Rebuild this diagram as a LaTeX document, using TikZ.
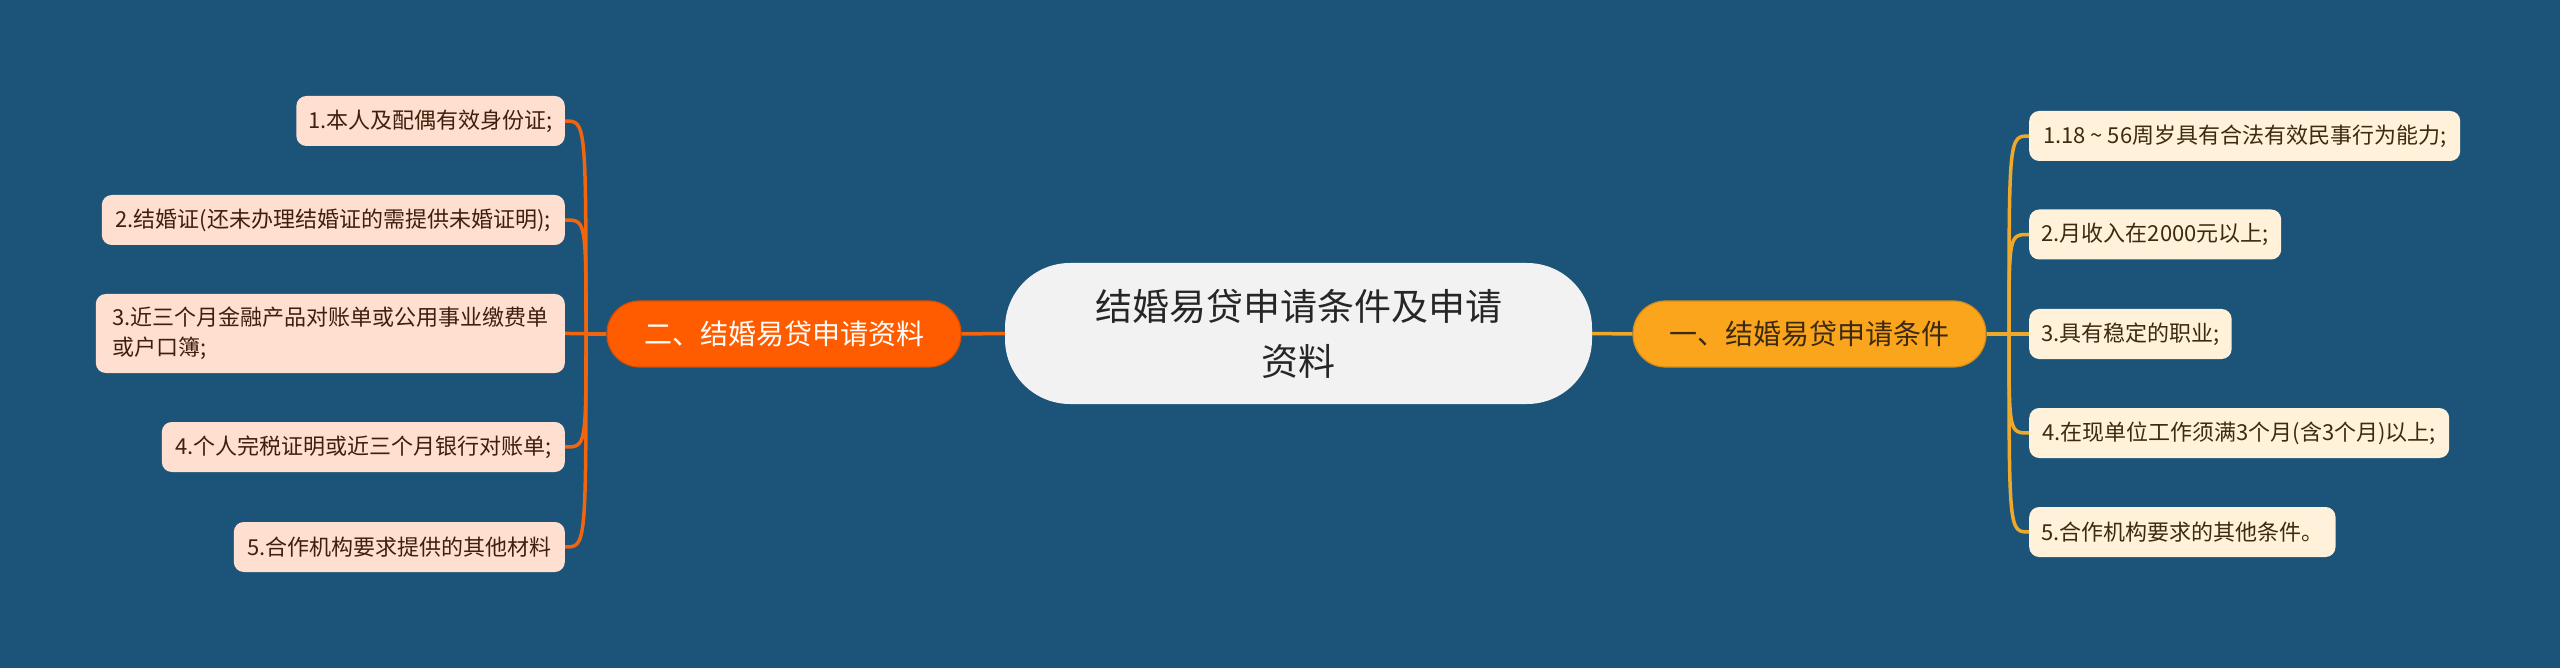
\documentclass[tikz,border=0pt]{standalone}
\usepackage{fontspec}
\setmainfont{Noto Sans CJK SC}
\definecolor{bg}{HTML}{1B5478}
\definecolor{lorange}{HTML}{FF5C00}
\definecolor{lline}{HTML}{F2650F}
\definecolor{rgold}{HTML}{FBA51D}
\definecolor{rline}{HTML}{EFA92A}
\definecolor{lleaf}{HTML}{FFE0D0}
\definecolor{rleaf}{HTML}{FFF1DA}
\definecolor{ctr}{HTML}{F2F2F2}
\definecolor{ltext}{HTML}{40200C}
\definecolor{rtext}{HTML}{3D2A12}
\begin{document}
\begin{tikzpicture}[x=1pt,y=-1pt,
  centerbox/.style={fill=ctr, rounded corners=65, minimum width=587, minimum height=141, inner sep=0, align=center, text=black!85, font=\fontsize{37}{55}\selectfont},
  lbranchbox/.style={fill=lorange, draw=lorange!85!black, line width=1.2, rounded corners=32.5, minimum width=354, minimum height=66, inner sep=0, text=white, font=\fontsize{28}{34}\selectfont},
  rbranchbox/.style={fill=rgold, draw=rgold!85!black, line width=1.2, rounded corners=32.5, minimum width=353, minimum height=66, inner sep=0, text=rtext, font=\fontsize{28}{34}\selectfont},
  lleafbox/.style={fill=lleaf, rounded corners=10, minimum height=50, inner xsep=12, inner ysep=0, text=ltext, anchor=east, font=\fontsize{22}{30}\selectfont, align=left},
  rleafbox/.style={fill=rleaf, rounded corners=10, minimum height=50, inner xsep=12, inner ysep=0, text=rtext, anchor=west, font=\fontsize{22}{30}\selectfont, align=left},
  lconn/.style={draw=lline, line width=3.5},
  rconn/.style={draw=rline, line width=3.5}]
\useasboundingbox (0,0) rectangle (2560,668);
\fill[bg] (0,0) rectangle (2560,668);

\node[centerbox] (c) at (1298.5,333.5) {结婚易贷申请条件及申请\\资料};
\node[lbranchbox] (lb) at (784,334) {二、结婚易贷申请资料};
\node[rbranchbox] (rb) at (1809.5,334) {一、结婚易贷申请条件};

\node[lleafbox, minimum width=268] (l1) at (565,121) {1.本人及配偶有效身份证;};
\node[lleafbox, minimum width=463] (l2) at (565,220) {2.结婚证(还未办理结婚证的需提供未婚证明);};
\node[lleafbox, minimum width=469, minimum height=79] (l3) at (565,333.5) {3.近三个月金融产品对账单或公用事业缴费单\\或户口簿;};
\node[lleafbox, minimum width=403] (l4) at (565,447) {4.个人完税证明或近三个月银行对账单;};
\node[lleafbox, minimum width=331] (l5) at (565,547) {5.合作机构要求提供的其他材料};

\node[rleafbox, minimum width=431] (r1) at (2029,136) {1.18\ \string~\ 56周岁具有合法有效民事行为能力;};
\node[rleafbox, minimum width=252] (r2) at (2029,234.5) {2.月收入在2000元以上;};
\node[rleafbox, minimum width=200] (r3) at (2029,334) {3.具有稳定的职业;};
\node[rleafbox, minimum width=420] (r4) at (2029,433) {4.在现单位工作须满3个月(含3个月)以上;};
\node[rleafbox, minimum width=306] (r5) at (2029,532) {5.合作机构要求的其他条件。};

\coordinate (lt) at (586,334);
\coordinate (rt) at (2009,334);

\draw[lconn] (c.west) -- (lb.east);
\draw[rconn] (c.east) -- (rb.west);
\draw[lconn] (lb.west) -- (lt);
\draw[rconn] (rb.east) -- (rt);

\foreach \n in {l1,l2,l3,l4,l5}
  \draw[lconn] (lt) .. controls (lt |- \n.east) and (lt |- \n.east) .. (\n.east);
\foreach \n in {r1,r2,r3,r4,r5}
  \draw[rconn] (rt) .. controls (rt |- \n.west) and (rt |- \n.west) .. (\n.west);
\end{tikzpicture}
\end{document}
